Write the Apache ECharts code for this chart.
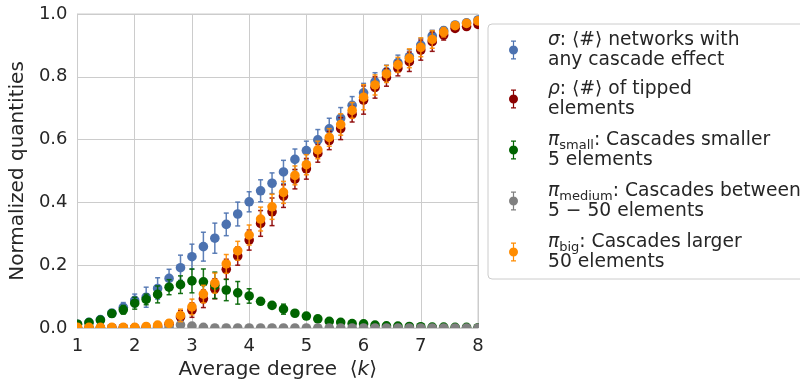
<!DOCTYPE html>
<html>
<head>
<meta charset="utf-8">
<script src="https://cdn.jsdelivr.net/npm/echarts@6/dist/echarts.min.js"></script>
<style>
  html, body { margin: 0; padding: 0; background: #ffffff; }
  #chart { width: 800px; height: 385px; }
</style>
</head>
<body>
<div id="chart"></div>
<script>
// Average degree <k> of the sampled networks
const degrees = [1.0, 1.2, 1.4, 1.6, 1.8, 2.0, 2.2, 2.4, 2.6, 2.8, 3.0, 3.2, 3.4, 3.6, 3.8, 4.0, 4.2, 4.4,
                 4.6, 4.8, 5.0, 5.2, 5.4, 5.6, 5.8, 6.0, 6.2, 6.4, 6.6, 6.8, 7.0, 7.2, 7.4, 7.6, 7.8, 8.0];

// sigma: share of networks with any cascade effect
const sigmaValues = [0.012, 0.018, 0.027, 0.047, 0.066, 0.088, 0.098, 0.126, 0.158, 0.192, 0.227, 0.259,
                     0.286, 0.330, 0.363, 0.402, 0.437, 0.461, 0.497, 0.537, 0.565, 0.599, 0.634, 0.668,
                     0.709, 0.749, 0.784, 0.816, 0.845, 0.864, 0.901, 0.930, 0.947, 0.965, 0.972, 0.981];
const sigmaErrors = [0.004, 0.006, 0.008, 0.012, 0.015, 0.020, 0.032, 0.034, 0.029, 0.040, 0.040, 0.046,
                     0.048, 0.036, 0.038, 0.032, 0.035, 0.033, 0.037, 0.033, 0.030, 0.033, 0.034, 0.034,
                     0.028, 0.030, 0.029, 0.021, 0.024, 0.022, 0.021, 0.018, 0.011, 0.006, 0.005, 0.004];

// rho: share of tipped elements
const rhoValues = [0.001, 0.001, 0.001, 0.001, 0.001, 0.001, 0.002, 0.005, 0.012, 0.035, 0.057, 0.093,
                   0.125, 0.187, 0.229, 0.280, 0.333, 0.370, 0.420, 0.474, 0.507, 0.556, 0.597, 0.635,
                   0.681, 0.726, 0.766, 0.798, 0.827, 0.848, 0.885, 0.912, 0.933, 0.954, 0.960, 0.967];
const rhoErrors = [0, 0, 0, 0, 0, 0, 0.002, 0.008, 0.012, 0.020, 0.023, 0.028,
                   0.032, 0.032, 0.029, 0.032, 0.041, 0.044, 0.036, 0.031, 0.033, 0.028, 0.029, 0.035,
                   0.025, 0.045, 0.034, 0.028, 0.024, 0.031, 0.032, 0.031, 0.016, 0.008, 0.005, 0.005];

// pi_small: cascades smaller than 5 elements
const smallValues = [0.012, 0.017, 0.025, 0.046, 0.058, 0.079, 0.091, 0.107, 0.130, 0.138, 0.150, 0.147,
                     0.136, 0.121, 0.112, 0.102, 0.085, 0.072, 0.060, 0.047, 0.038, 0.029, 0.021, 0.018,
                     0.014, 0.013, 0.009, 0.007, 0.006, 0.005, 0.004, 0.003, 0.003, 0.002, 0.002, 0.001];
const smallErrors = [0.003, 0.004, 0.005, 0.006, 0.014, 0.019, 0.017, 0.027, 0.024, 0.028, 0.038, 0.041,
                     0.042, 0.034, 0.036, 0.023, 0.008, 0.006, 0.016, 0.008, 0.006, 0.005, 0.004, 0.004,
                     0.003, 0.003, 0.003, 0.002, 0.002, 0.002, 0.001, 0.001, 0.001, 0.001, 0.001, 0.001];

// pi_medium: cascades between 5 and 50 elements
const mediumValues = [0, 0, 0, 0, 0, 0, 0, 0.001, 0.003, 0.010, 0.006, 0.002,
                      0, 0, 0, 0, 0, 0, 0, 0, 0, 0, 0, 0,
                      0, 0, 0, 0, 0, 0, 0, 0, 0, 0, 0, 0];
const mediumErrors = [0, 0, 0, 0, 0, 0, 0, 0.001, 0.003, 0.004, 0.003, 0.002,
                      0, 0, 0, 0, 0, 0, 0, 0, 0, 0, 0, 0,
                      0, 0, 0, 0, 0, 0, 0, 0, 0, 0, 0, 0];

// pi_big: cascades larger than 50 elements
const bigValues = [0.002, 0.002, 0.002, 0.002, 0.002, 0.002, 0.005, 0.009, 0.015, 0.040, 0.067, 0.108,
                   0.143, 0.204, 0.246, 0.296, 0.347, 0.386, 0.432, 0.486, 0.520, 0.567, 0.607, 0.648,
                   0.693, 0.735, 0.774, 0.809, 0.838, 0.859, 0.894, 0.919, 0.942, 0.963, 0.970, 0.978];
const bigErrors = [0, 0, 0, 0, 0, 0, 0.002, 0.005, 0.010, 0.020, 0.025, 0.028,
                   0.032, 0.030, 0.030, 0.032, 0.038, 0.040, 0.035, 0.030, 0.032, 0.028, 0.028, 0.034,
                   0.025, 0.040, 0.032, 0.027, 0.024, 0.030, 0.030, 0.028, 0.015, 0.008, 0.005, 0.004];

const xTicks = [1, 2, 3, 4, 5, 6, 7, 8];
const yTicks = [0.0, 0.2, 0.4, 0.6, 0.8, 1.0];

const FONT = 'DejaVu Sans';
const TEXT = '#262626';
const GRIDLINE = '#cccccc';

// legend glyph: vertical error bar with caps and a dot in the middle
const ERRORBAR_ICON = 'path://M4.0,0h1.2v19h-1.2z M2.1,0h5v1.3h-5z M2.1,17.7h5v1.3h-5z ' +
  'M9.1,9.5a4.5,4.5 0 1,1 -9,0a4.5,4.5 0 1,1 9,0z';

function errorBarItem(params, api) {
  const x = api.value(0), y = api.value(1), e = api.value(2);
  const color = api.visual('color');
  const c = api.coord([x, y]);
  const children = [];
  if (e > 0) {
    const lo = api.coord([x, y - e])[1];
    const hi = api.coord([x, y + e])[1];
    const cap = 2.5;
    const st = { stroke: color, lineWidth: 1.5, fill: null, opacity: 0.9 };
    children.push({ type: 'line', shape: { x1: c[0], y1: lo, x2: c[0], y2: hi }, style: st });
    children.push({ type: 'line', shape: { x1: c[0] - cap, y1: lo, x2: c[0] + cap, y2: lo }, style: st });
    children.push({ type: 'line', shape: { x1: c[0] - cap, y1: hi, x2: c[0] + cap, y2: hi }, style: st });
  }
  children.push({ type: 'circle', shape: { cx: c[0], cy: c[1], r: 4.8 }, style: { fill: color, stroke: null } });
  return { type: 'group', children: children };
}

function makeSeries(name, color, values, errors) {
  return {
    name: name,
    type: 'custom',
    clip: true,
    renderItem: errorBarItem,
    itemStyle: { color: color },
    encode: { x: 0, y: 1 },
    data: degrees.map((d, i) => [d, values[i], errors[i]])
  };
}

const legendLabels = {
  sigma:  '{m|σ}: ⟨#⟩ networks with\nany cascade effect',
  rho:    '{m|ρ}: ⟨#⟩ of tipped\nelements',
  small:  '{m|π}{s|small}: Cascades smaller\n5 elements',
  medium: '{m|π}{s|medium}: Cascades between\n5 − 50 elements',
  big:    '{m|π}{s|big}: Cascades larger\n50 elements'
};

const chart = echarts.init(document.getElementById('chart'), null, { renderer: 'canvas' });

chart.setOption({
  animation: false,
  backgroundColor: '#ffffff',
  textStyle: { fontFamily: FONT, color: TEXT },
  grid: {
    left: 76, right: 322, top: 14, bottom: 57,
    show: true, borderColor: GRIDLINE, borderWidth: 1, backgroundColor: 'transparent'
  },
  xAxis: {
    type: 'value',
    min: xTicks[0], max: xTicks[xTicks.length - 1], interval: 1,
    name: 'Average degree  ⟨{i|k}⟩',
    nameLocation: 'middle',
    nameGap: 28,
    nameTextStyle: {
      fontFamily: FONT, fontSize: 20, color: TEXT,
      rich: { i: { fontFamily: FONT, fontStyle: 'italic', fontSize: 20, color: TEXT } }
    },
    axisLine: { show: true, lineStyle: { color: GRIDLINE, width: 1 } },
    axisTick: { show: false },
    axisLabel: { fontFamily: FONT, fontSize: 18, color: TEXT, margin: 9 },
    splitLine: { show: true, lineStyle: { color: GRIDLINE, width: 1 } }
  },
  yAxis: {
    type: 'value',
    min: yTicks[0], max: yTicks[yTicks.length - 1], interval: 0.2,
    name: 'Normalized quantities',
    nameLocation: 'middle',
    nameGap: 40,
    nameTextStyle: { fontFamily: FONT, fontSize: 20, color: TEXT },
    axisLine: { show: true, lineStyle: { color: GRIDLINE, width: 1 } },
    axisTick: { show: false },
    axisLabel: { fontFamily: FONT, fontSize: 18, color: TEXT, margin: 10, formatter: v => v.toFixed(1) },
    splitLine: { show: true, lineStyle: { color: GRIDLINE, width: 1 } }
  },
  legend: {
    orient: 'vertical',
    left: 488,
    top: 24,
    padding: [6, 10, 7, 21],
    itemGap: 9,
    itemWidth: 9,
    itemHeight: 19,
    backgroundColor: 'rgba(255,255,255,0.8)',
    borderColor: GRIDLINE,
    borderWidth: 1,
    borderRadius: 4,
    selectedMode: false,
    data: Object.keys(legendLabels).map(n => ({ name: n, icon: ERRORBAR_ICON })),
    formatter: name => legendLabels[name],
    textStyle: {
      fontFamily: FONT, fontSize: 18.7, color: TEXT, lineHeight: 20,
      padding: [0, 0, 0, 25],
      rich: {
        m: { fontFamily: FONT, fontStyle: 'italic', fontSize: 18.7, color: TEXT, lineHeight: 20 },
        s: { fontFamily: FONT, fontSize: 13, color: TEXT, lineHeight: 10, padding: [11, 0, 0, 0] }
      }
    }
  },
  series: [
    makeSeries('sigma', '#4c72b0', sigmaValues, sigmaErrors),
    makeSeries('rho', '#8b0000', rhoValues, rhoErrors),
    makeSeries('small', '#006400', smallValues, smallErrors),
    makeSeries('medium', '#808080', mediumValues, mediumErrors),
    makeSeries('big', '#ff8c00', bigValues, bigErrors)
  ]
});
</script>
</body>
</html>
